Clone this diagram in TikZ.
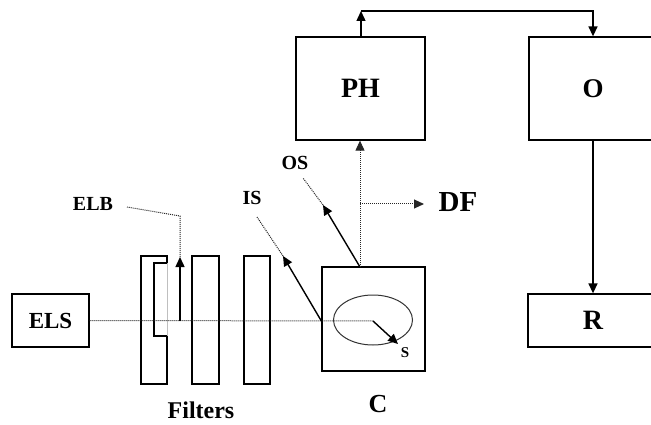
\documentclass[tikz,border=0pt]{standalone}
\usepackage{fontspec}
\setmainfont{Liberation Serif}
\usetikzlibrary{arrows.meta,calc}
\begin{document}
\begin{tikzpicture}[x=1pt,y=-1pt,
  box/.style={draw,line width=1.3pt,inner sep=0pt,font=\bfseries},
  lbl/.style={inner sep=0pt,font=\bfseries},
  dot/.style={line width=1pt,dash pattern=on 1pt off 1pt,black!85},
  arr/.style={line width=1.4pt,-{Triangle[length=10pt,width=9pt]}},
  darr/.style={dot,-{Triangle[length=10pt,width=9pt]}},
  fs/.style={font=\bfseries\fontsize{#1}{#1}\selectfont}]
\useasboundingbox (0,0) rectangle (651,425);
\clip (0,0) rectangle (651,425);
% boxes
\node[box,fs=23,minimum width=77pt,minimum height=53pt] (els) at (50.5,320.5) {ELS};
\node[box,minimum width=27pt,minimum height=128pt] (f2) at (205.5,320) {};
\node[box,minimum width=26pt,minimum height=128pt] (f3) at (257,320) {};
\node[box,minimum width=103pt,minimum height=104pt] (c) at (373.5,319) {};
\node[box,fs=28,minimum width=129pt,minimum height=103pt] (ph) at (360.5,88.5) {PH};
\node[box,fs=27,minimum width=128pt,minimum height=103pt] (o) at (593,88.5) {O};
\node[box,fs=28,minimum width=130pt,minimum height=53pt] (r) at (593,320.5) {R};
% filter 1 (with notch)
\draw[line width=1.3pt] (141,256) -- (167,256) -- (167,263) -- (154,263) -- (154,336) -- (167,336) -- (167,384) -- (141,384) -- cycle;
\draw[line width=0.6pt,black!25] (167,263) -- (167,336);
% ellipse in C
\draw[line width=1pt,black!80] (373,320) ellipse [x radius=39.5, y radius=25];
% coordinates
\coordinate (sc) at (373,321);
\coordinate (cw) at (c.west |- sc);
\coordinate (cn) at (360,267);
\coordinate (elbb) at (180,321);
\coordinate (elbt) at (180,257);
\coordinate (elbk) at (180,216);
\coordinate (elbe) at (127,207);
\coordinate (ist) at (283,256);
\coordinate (ise) at (257,217);
\coordinate (ost) at (323,205);
\coordinate (ose) at (303,178);
\coordinate (dfb) at (360,204);
\coordinate (dft) at (424,204);
\coordinate (st) at (398,344);
\coordinate (top) at (361,11);
% labels
\node[lbl,fs=20] (elb) at (93,204) {ELB};
\node[lbl,fs=20] (is) at (252,198) {IS};
\node[lbl,fs=20] (os) at (295,163) {OS};
\node[lbl,fs=29] (df) at (458,202) {DF};
\node[lbl,fs=15] (s) at (405,353) {S};
\node[lbl,fs=26] (cl) at (378,404) {C};
\node[lbl,fs=24] (fl) at (201,410) {Filters};
% beam
\draw[dot] (els.east) -- (sc);
% ELB
\draw[arr] (elbb) -- (elbt);
\draw[dot] (elbt) -- (elbk) -- (elbe);
% IS
\draw[arr] (cw) -- (ist);
\draw[dot] (ist) -- (ise);
% OS
\draw[arr] (cn) -- (ost);
\draw[dot] (ost) -- (ose);
% to PH
\draw[darr] (cn) -- (cn |- ph.south);
\draw[darr] (dfb) -- (dft);
% S
\draw[arr] (sc) -- (st);
% PH -> O
\draw[arr] (ph.north -| top) -- (top);
\draw[arr] (top) -| (o.north);
% O -> R
\draw[arr] (o.south) -- (r.north);
\end{tikzpicture}
\end{document}
